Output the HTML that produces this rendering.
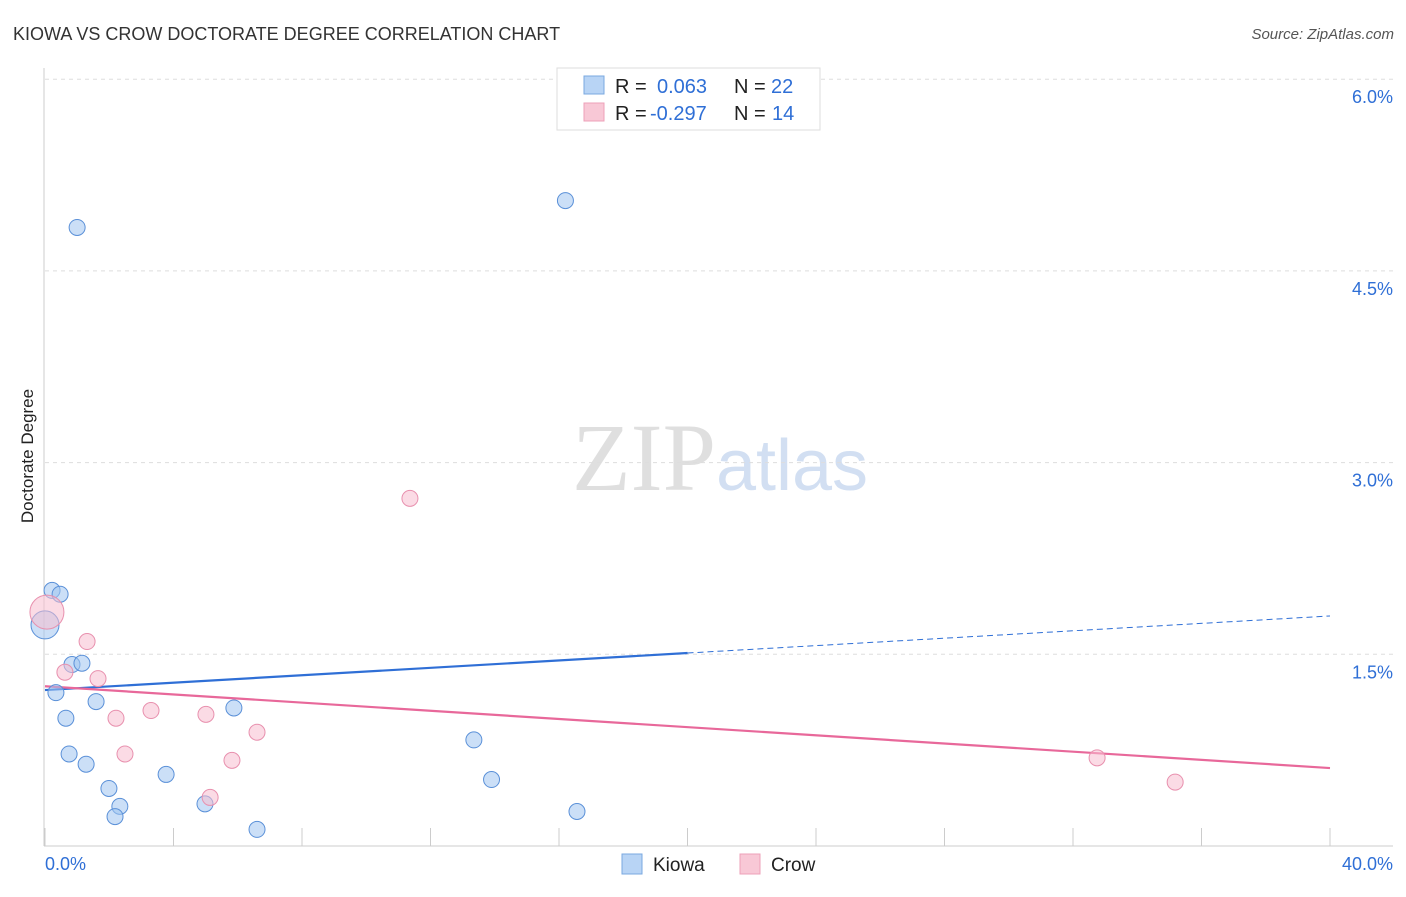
<!DOCTYPE html>
<html><head><meta charset="utf-8"><style>
body{margin:0;background:#fff;font-family:"Liberation Sans",sans-serif;}
svg text{font-family:"Liberation Sans",sans-serif;}
</style></head><body>
<svg id="chart" width="1406" height="892" xmlns="http://www.w3.org/2000/svg">
<text x="13" y="40" font-size="18" fill="#333">KIOWA VS CROW DOCTORATE DEGREE CORRELATION CHART</text>
<text x="1394" y="39" font-size="15" fill="#555" text-anchor="end" font-style="italic">Source: ZipAtlas.com</text>
<text x="720" y="490" font-size="96" text-anchor="middle" fill="#ddd" opacity="0.8"><tspan font-family="Liberation Serif" fill="#d8d8d8">ZIP</tspan><tspan fill="#c8d8f0" font-size="72">atlas</tspan></text>
<text transform="translate(33,456) rotate(-90)" font-size="17" fill="#222" text-anchor="middle">Doctorate Degree</text>
<g id="grid"></g><g id="axes"></g><g id="trends"></g><g id="points"></g>
<g>
<rect x="557" y="68" width="263" height="62" fill="#fff" stroke="#ddd"/>
<rect x="584" y="76" width="20" height="18" fill="#b8d4f5" stroke="#7aa8e0"/>
<rect x="584" y="103" width="20" height="18" fill="#f8c8d6" stroke="#eea0b8"/>
<text x="615" y="93" font-size="20" fill="#222">R =</text>
<text x="657" y="93" font-size="20" fill="#2f6fd6">0.063</text>
<text x="734" y="93" font-size="20" fill="#222">N =</text>
<text x="771" y="93" font-size="20" fill="#2f6fd6">22</text>
<text x="615" y="120" font-size="20" fill="#222">R =</text>
<text x="650" y="120" font-size="20" fill="#2f6fd6">-0.297</text>
<text x="734" y="120" font-size="20" fill="#222">N =</text>
<text x="772" y="120" font-size="20" fill="#2f6fd6">14</text>
</g>
<g>
<rect x="622" y="854" width="20" height="20" fill="#b8d4f5" stroke="#7aa8e0"/>
<text x="653" y="871" font-size="19" fill="#222">Kiowa</text>
<rect x="740" y="854" width="20" height="20" fill="#f8c8d6" stroke="#eea0b8"/>
<text x="771" y="871" font-size="19" fill="#222">Crow</text>
</g>
</svg>
<script>
const yTicks=[1.5,3.0,4.5,6.0];
const yTickLabels=["1.5%","3.0%","4.5%","6.0%"];
const xTicks=[0,4,8,12,16,20,24,28,32,36,40];
const kiowaX=[1.0,16.2,0.22,0.47,0.0,0.84,1.15,0.34,1.59,0.65,5.88,0.75,1.28,1.99,3.77,2.33,2.18,4.98,6.6,13.35,13.9,16.56];
const kiowaY=[4.84,5.05,2.0,1.97,1.73,1.42,1.43,1.2,1.13,1.0,1.08,0.72,0.64,0.45,0.56,0.31,0.23,0.33,0.13,0.83,0.52,0.27];
const crowX=[0.06,1.31,0.62,1.65,2.21,3.3,5.01,6.6,2.49,5.82,5.14,11.36,32.75,35.18];
const crowY=[1.83,1.6,1.36,1.31,1.0,1.06,1.03,0.89,0.72,0.67,0.38,2.72,0.69,0.5];
const kiowaTrend=[1.22,1.80];
const crowTrend=[1.25,0.61];
const NS="http://www.w3.org/2000/svg";
const X=v=>45+v/40*1285;
const Y=v=>846-v/1.5*191.7;
function mk(tag,attrs,parent){const e=document.createElementNS(NS,tag);for(const k in attrs)e.setAttribute(k,attrs[k]);document.getElementById(parent).appendChild(e);return e;}
yTicks.forEach((t,i)=>{
 const l=mk('line',{x1:45,x2:1393,y1:Y(t),y2:Y(t),stroke:'#ddd','stroke-dasharray':'4,4'},'grid');
 
 
 const tx=mk('text',{x:1393,y:Y(t)+24,'font-size':18,fill:'#2f6fd6','text-anchor':'end'},'grid');
 tx.textContent=yTickLabels[i];
 
 
});
const ax=mk('line',{x1:44,x2:44,y1:68,y2:846,stroke:'#ccc'},'axes');


const bx=mk('line',{x1:44,x2:1393,y1:846,y2:846,stroke:'#ccc'},'axes');


xTicks.forEach(t=>{
 const l=mk('line',{x1:X(t),x2:X(t),y1:828,y2:846,stroke:'#ccc'},'axes');
 
 
});
[[0,'0.0%','start',45],[40,'40.0%','end',1393]].forEach(d=>{
 const t=mk('text',{x:d[3],y:870,'font-size':18,fill:'#2f6fd6','text-anchor':d[2]},'axes');
 t.textContent=d[1];
 
 
});
const kmid=20;
const kyAt=v=>kiowaTrend[0]+(kiowaTrend[1]-kiowaTrend[0])*v/40;
const k1=mk('line',{x1:X(0),y1:Y(kyAt(0)),x2:X(kmid),y2:Y(kyAt(kmid)),stroke:'#2f6fd6','stroke-width':2.2},'trends');


const k2=mk('line',{x1:X(kmid),y1:Y(kyAt(kmid)),x2:X(40),y2:Y(kyAt(40)),stroke:'#2f6fd6','stroke-width':1,'stroke-dasharray':'6,4'},'trends');


const c1=mk('line',{x1:X(0),y1:Y(crowTrend[0]),x2:X(40),y2:Y(crowTrend[1]),stroke:'#e8689a','stroke-width':2.2},'trends');


kiowaX.forEach((x,i)=>{
 const r=x===0?14:8;
 const c=mk('circle',{cx:X(x),cy:Y(kiowaY[i]),r:r,fill:'rgba(160,196,240,0.55)',stroke:'#5a90d8','stroke-width':1},'points');
 
 
});
crowX.forEach((x,i)=>{
 const r=i===0?17:8;
 const c=mk('circle',{cx:X(x),cy:Y(crowY[i]),r:r,fill:'rgba(248,190,208,0.55)',stroke:'#e890ae','stroke-width':1},'points');
 
 
});
</script>
</body></html>
